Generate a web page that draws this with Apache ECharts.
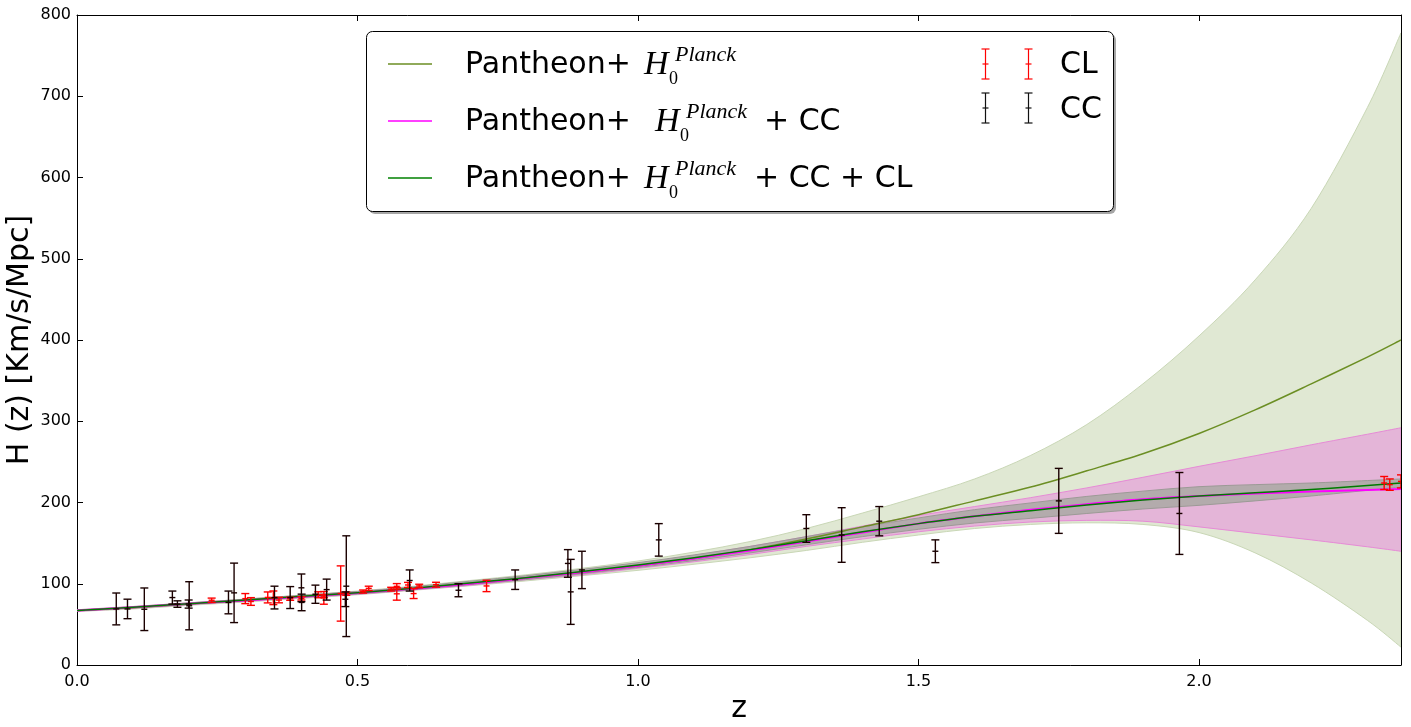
<!DOCTYPE html>
<html><head><meta charset="utf-8">
<script src="https://cdn.jsdelivr.net/npm/echarts@6/dist/echarts.min.js"></script>
<style>html,body{margin:0;padding:0;background:#fff}#c{width:1411px;height:727px}</style>
</head><body><div id="c"></div>
<script>
// ---- curves ----
const zGrid   = [0,0.1,0.2,0.3,0.4,0.5,0.6,0.7,0.8,0.9,1.0,1.1,1.2,1.3,1.4,1.5,1.6,1.7,1.8,1.9,2.0,2.1,2.2,2.3,2.36];
const hOlive  = [67,70.5,75,79.5,84,88.5,94,100,107,114,122,131,142,155,170,185,202,219,239,260,285,314,346,379,400];
const oliveUp = [68,72,76.5,81,86,91,97,104,111,119,128,139,152,168,187,207,229,258,296,346,405,474,562,686,778];
const oliveLo = [66,69,73.5,77.5,82,86.5,92,97.5,103.5,110,116.5,124,132,141,151,160,168,173,175,173,163,138,101,55,22];
const hMag    = [67,71,75.5,79.5,84,88.5,94,100,107,114,122,131,141,152,163,174,183,191,198,204,208,211,213.5,215.5,216.5];
const magUp   = [68,72,76.5,80.5,85,90,95.5,102,109,117,125,135,146,158,171,184,195,206,218,231,244.5,257.5,271,284,292];
const magLo   = [66,70,74.5,78.5,83,87,92.5,98,105,111,119,127,136,146,155,164,171,176,178,177,170,162,154,145.5,140];
const hGreen  = [67,71,75.5,80,84.5,89,94.5,101,107.5,115,123,132,142,153,164,174,183,190,197,203,208,212,216,221,224];
const greyUp  = [67.5,71.7,76.4,81.1,85.8,90.5,96.3,103.1,109.9,117.7,126,135.5,146,158,170,181,191.2,199.5,207.5,214,219.5,222,224,227,229];
const greyLo  = [66.5,70.3,74.6,78.9,83.2,87.5,92.7,98.9,105.1,112.3,120,128.5,138,148,158,167,174.8,180.5,186.5,192,196.5,202,208,215,219];

// ---- data points ----
const ccZ = [0.07,0.09,0.12,0.17,0.179,0.199,0.2,0.27,0.28,0.352,0.38,0.4,0.4004,0.425,0.445,0.4783,0.48,0.593,0.68,0.781,0.875,0.88,0.9,1.037,1.3,1.363,1.43,1.53,1.75,1.965];
const ccH = [69,69,68.6,83,75,75,72.9,77,88.8,83,83,95,77,87.1,92.8,80.9,97,104,92,105,125,90,117,154,168,160,177,140,202,186.5];
const ccE = [19.6,12,26.2,8,4,5,29.6,14,36.6,14,13.5,17,10.2,11.2,12.9,9,62,13,8,12,17,40,23,20,17,33.6,18,14,40,50.4];
const clZ = [0.24,0.30,0.31,0.34,0.35,0.36,0.38,0.40,0.43,0.44,0.44,0.47,0.48,0.51,0.52,0.56,0.57,0.57,0.59,0.60,0.61,0.64,0.73,2.33,2.34,2.36];
const clH = [79.69,81.7,78.17,83.17,82.7,79.93,81.5,82.04,86.45,82.6,84.81,88,87.79,90.4,94.35,93.34,87.6,96.8,98.48,87.9,97.3,98.82,97.3,224,222,226];
const clE = [2.65,6.22,4.74,6.74,8.4,3.39,1.9,2.03,3.68,7.8,1.83,34,2.03,1.9,2.64,2.3,7.8,3.4,3.18,6.1,2.1,2.99,7.0,8,7,8];

const xTicks = [0,0.5,1.0,1.5,2.0];
const yMax = 800, xMax = 2.36;

const chart = echarts.init(document.getElementById('c'), null, {renderer:'canvas'});

// Catmull-Rom spline through pixel points -> SVG path segments
function crSegs(p){
  let s='';
  for(let i=0;i<p.length-1;i++){
    const p0=p[Math.max(i-1,0)], p1=p[i], p2=p[i+1], p3=p[Math.min(i+2,p.length-1)];
    const c1=[p1[0]+(p2[0]-p0[0])/6, p1[1]+(p2[1]-p0[1])/6];
    const c2=[p2[0]-(p3[0]-p1[0])/6, p2[1]-(p3[1]-p1[1])/6];
    s+=' C'+c1[0].toFixed(2)+' '+c1[1].toFixed(2)+' '+c2[0].toFixed(2)+' '+c2[1].toFixed(2)+' '+p2[0].toFixed(2)+' '+p2[1].toFixed(2);
  }
  return s;
}
function band(up, lo, fill, edge, z){
  return {type:'custom', silent:true, clip:true, z:z, xAxisIndex:0, yAxisIndex:0,
    data:[[zGrid[1], lo[1]]], encode:{x:0,y:1},
    renderItem(params, api){
      const pu=zGrid.map((v,i)=>api.coord([v, up[i]]));
      const pl=zGrid.map((v,i)=>api.coord([v, lo[i]])).reverse();
      const d='M'+pu[0][0]+' '+pu[0][1]+crSegs(pu)+' L'+pl[0][0]+' '+pl[0][1]+crSegs(pl)+' Z';
      return {type:'path', shape:{pathData:d}, style:{fill:fill, stroke:edge, lineWidth:1}};
    }};
}
function curve(h, color, w, z){
  return {type:'custom', silent:true, clip:true, z:z, xAxisIndex:0, yAxisIndex:0,
    data:[[zGrid[1], h[1]]], encode:{x:0,y:1},
    renderItem(params, api){
      const p=zGrid.map((v,i)=>api.coord([v, h[i]]));
      const d='M'+p[0][0]+' '+p[0][1]+crSegs(p);
      return {type:'path', shape:{pathData:d}, style:{fill:null, stroke:color, lineWidth:w}};
    }};
}
function errs(zs, hs, es, color, z){
  return {type:'custom', silent:true, clip:true, z:z, xAxisIndex:0, yAxisIndex:0,
    data: zs.map((v,i)=>[v,hs[i],es[i]]), encode:{x:0,y:1},
    renderItem(params, api){
      const x=api.value(0), y=api.value(1), e=api.value(2);
      const t=api.coord([x,y+e]), b=api.coord([x,y-e]), c=api.coord([x,y]);
      const cw=4, lw=1.4;
      const st={stroke:color, lineWidth:lw};
      return {type:'group', children:[
        {type:'line', shape:{x1:t[0],y1:t[1],x2:b[0],y2:b[1]}, style:st},
        {type:'line', shape:{x1:t[0]-cw,y1:t[1],x2:t[0]+cw,y2:t[1]}, style:st},
        {type:'line', shape:{x1:b[0]-cw,y1:b[1],x2:b[0]+cw,y2:b[1]}, style:st},
        {type:'line', shape:{x1:c[0]-3,y1:c[1],x2:c[0]+3,y2:c[1]}, style:st}
      ]};
    }};
}

const axisCommon = {axisLine:{show:true, onZero:false, lineStyle:{color:'#000', width:1}},
  axisTick:{show:true, inside:true, length:6, lineStyle:{color:'#000', width:1}}, splitLine:{show:false}};
const lblFont = {color:'#000', fontSize:16, fontFamily:'DejaVu Sans'};

// legend graphics
const sans = 'DejaVu Sans', serif = 'Liberation Serif';
const rows = [
  {y:65, color:'#6b8e23', hx:644, tail:'', tx:0},
  {y:122, color:'#ff00ff', hx:655, tail:'+ CC', tx:764},
  {y:179, color:'#008000', hx:644, tail:'+ CC + CL', tx:754}
];
const g = [];
g.push({type:'rect', z:100, shape:{x:369, y:34, width:747, height:180, r:6}, style:{fill:'rgba(0,0,0,0.35)'}});
g.push({type:'rect', z:101, shape:{x:366.5, y:31.5, width:747, height:180, r:6}, style:{fill:'#fff', stroke:'#000', lineWidth:1}});
rows.forEach(r=>{
  g.push({type:'line', z:102, shape:{x1:388,y1:r.y-1,x2:432,y2:r.y-1}, style:{stroke:r.color, lineWidth:1.5}});
  g.push({type:'text', z:102, x:465, y:r.y, style:{text:'Pantheon+', font:'30px "'+sans+'"', fill:'#000', verticalAlign:'middle'}});
  g.push({type:'text', z:102, x:r.hx, y:r.y, style:{text:'H', font:'italic 34px "'+serif+'"', fill:'#000', verticalAlign:'middle'}});
  g.push({type:'text', z:102, x:r.hx+31, y:r.y-10, style:{text:'Planck', font:'italic 22px "'+serif+'"', fill:'#000', verticalAlign:'middle'}});
  g.push({type:'text', z:102, x:r.hx+25, y:r.y+14, style:{text:'0', font:'18px "'+serif+'"', fill:'#000', verticalAlign:'middle'}});
  if(r.tail) g.push({type:'text', z:102, x:r.tx, y:r.y, style:{text:r.tail, font:'30px "'+sans+'"', fill:'#000', verticalAlign:'middle'}});
});
function legErr(x, yc, color){
  const st={stroke:color, lineWidth:1.2};
  return [
    {type:'line', z:102, shape:{x1:x,y1:yc-15,x2:x,y2:yc+15}, style:st},
    {type:'line', z:102, shape:{x1:x-4,y1:yc-15,x2:x+4,y2:yc-15}, style:st},
    {type:'line', z:102, shape:{x1:x-4,y1:yc+15,x2:x+4,y2:yc+15}, style:st},
    {type:'line', z:102, shape:{x1:x-3,y1:yc,x2:x+3,y2:yc}, style:st}
  ];
}
g.push(...legErr(985.5,64,'#ff0000'), ...legErr(1028.5,64,'#ff0000'));
g.push(...legErr(985.5,108,'#111'), ...legErr(1028.5,108,'#111'));
g.push({type:'text', z:102, x:1060, y:65, style:{text:'CL', font:'30px "'+sans+'"', fill:'#000', verticalAlign:'middle'}});
g.push({type:'text', z:102, x:1060, y:110, style:{text:'CC', font:'30px "'+sans+'"', fill:'#000', verticalAlign:'middle'}});
// axis titles
g.push({type:'text', z:102, x:20, y:340, rotation:Math.PI/2, style:{text:'H (z) [Km/s/Mpc]', font:'30px "'+sans+'"', fill:'#000', align:'center', verticalAlign:'middle'}});
g.push({type:'text', z:102, x:739, y:709, style:{text:'z', font:'30px "'+sans+'"', fill:'#000', align:'center', verticalAlign:'middle'}});

const isTick = v => xTicks.some(t=>Math.abs(t-v)<1e-9);

chart.setOption({
  animation:false,
  backgroundColor:'#fff',
  grid:{left:77, right:10, top:15, bottom:62, containLabel:false},
  xAxis:[
    Object.assign({type:'value', min:0, max:xMax, interval:0.5, position:'bottom',
      axisLabel:Object.assign({margin:9, showMaxLabel:false, formatter:v=>isTick(v)?v.toFixed(1):''}, lblFont)}, axisCommon),
    Object.assign({type:'value', min:0, max:xMax, interval:0.5, position:'top', axisLabel:{show:false}}, axisCommon)
  ],
  yAxis:[
    Object.assign({type:'value', min:0, max:yMax, interval:100, position:'left',
      axisLabel:Object.assign({margin:6}, lblFont)}, axisCommon),
    Object.assign({type:'value', min:0, max:yMax, interval:100, position:'right', axisLabel:{show:false}}, axisCommon)
  ],
  series:[
    band(oliveUp, oliveLo, '#e0e8d3', '#c9d7b6', 1),
    band(magUp, magLo, '#e4b5d8', '#e68bd6', 2),
    band(greyUp, greyLo, '#b3abac', '#9c9a96', 3),
    curve(hOlive, '#6b8e23', 1.5, 4),
    curve(hMag, '#ff00ff', 2, 5),
    curve(hGreen, '#007a00', 1.5, 6),
    errs(clZ, clH, clE, '#ff0000', 7),
    errs(ccZ, ccH, ccE, '#1a0000', 8)
  ],
  graphic:g
});
</script></body></html>
